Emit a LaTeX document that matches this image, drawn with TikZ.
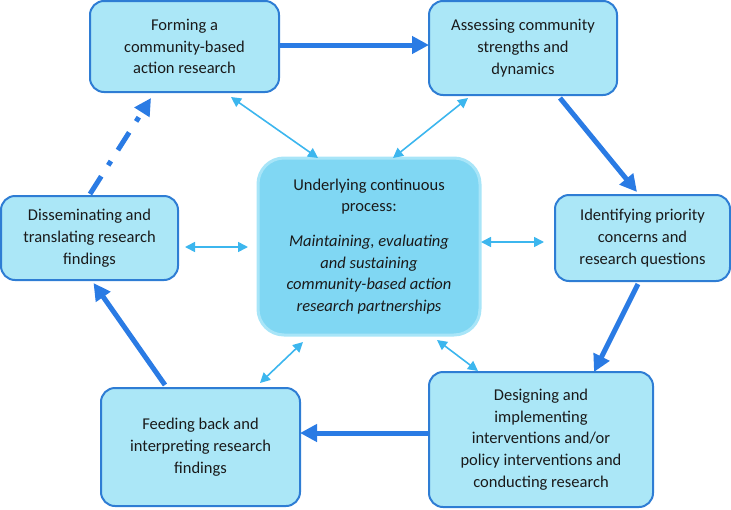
\documentclass[tikz,border=0pt]{standalone}
\usepackage{fontspec}
\setmainfont{Carlito}
\usetikzlibrary{calc,arrows.meta}
\definecolor{boxfill}{HTML}{ABE7F7}
\definecolor{boxline}{HTML}{2E7DD4}
\definecolor{cfill}{HTML}{80D7F3}
\definecolor{cline}{HTML}{A8E5F8}
\definecolor{thick}{HTML}{2A7BE4}
\definecolor{thin}{HTML}{3CB6EE}
\definecolor{txt}{HTML}{1A1A1A}
\begin{document}
\begin{tikzpicture}[x=1pt,y=-1pt,
  stagebox/.style={draw=boxline, line width=2pt, fill=boxfill, rounded corners=14pt,
    align=center, outer sep=0pt, inner sep=0pt, text=txt,
    font=\fontsize{16.5}{21.7}\selectfont},
  corebox/.style={draw=cline, line width=3pt, fill=cfill, rounded corners=26pt,
    align=center, outer sep=0pt, inner sep=0pt, text=txt,
    font=\fontsize{16.5}{21.7}\selectfont},
  bigarrow/.style={draw=thick, line width=5pt, -{Triangle[length=17pt,width=17pt]}},
  smallarrow/.style={draw=thin, line width=1.6pt, {Triangle[length=10pt,width=10pt]}-{Triangle[length=10pt,width=10pt]}}
]
\useasboundingbox (0,0) rectangle (731,509);

\node[stagebox, minimum width=189pt, minimum height=91pt] (form) at (184.5,46.5)
  {Forming a\\community-based\\action research};
\node[stagebox, minimum width=188pt, minimum height=94pt] (assess) at (523,48)
  {Assessing community\\strengths and\\dynamics};
\node[stagebox, minimum width=175pt, minimum height=86pt] (ident) at (642.5,238)
  {Identifying priority\\concerns and\\research questions};
\node[stagebox, minimum width=224pt, minimum height=135pt] (design) at (541,439.5)
  {Designing and\\implementing\\interventions and/or\\policy interventions and\\conducting research};
\node[stagebox, minimum width=199pt, minimum height=118pt] (feed) at (200.5,447)
  {Feeding back and\\interpreting research\\findings};
\node[stagebox, minimum width=177pt, minimum height=84pt] (dissem) at (89.5,238)
  {Disseminating and\\translating research\\findings};
\node[corebox, minimum width=222pt, minimum height=177pt] (core) at (369,246.5)
  {Underlying continuous\\process:\\[13pt]
   \itshape Maintaining, evaluating\\\itshape and sustaining\\\itshape community-based action\\\itshape research partnerships};

% main cycle
\draw[bigarrow] ($(form.east)+(1,-1.5)$) -- ($(assess.west)+(0,-3)$);
\draw[bigarrow] ($(assess.south)+(37,3)$) -- ($(ident.north)+(-5.5,-3)$);
\draw[bigarrow] ($(ident.south)+(-4.5,3)$) -- ($(design.north)+(53,0)$);
\draw[bigarrow] ($(design.west)+(0,-6.5)$) -- ($(feed.east)+(0,-14)$);
\draw[bigarrow] ($(feed.north)+(-35.5,-3)$) -- ($(dissem.south)+(4,3)$);
\draw[bigarrow, dash pattern=on 21pt off 13pt on 5pt off 13pt] ($(dissem.north)+(0.5,-2)$) -- ($(form.south)+(-33.5,6)$);

% links to core
\draw[smallarrow] ($(form.south)+(46.5,5)$) -- ($(core.north)+(-51,0)$);
\draw[smallarrow] ($(assess.south)+(-55,3)$) -- ($(core.north)+(24,0)$);
\draw[smallarrow] ($(dissem.east)+(7,9)$) -- ($(core.west)+(-10,0.5)$);
\draw[smallarrow] ($(core.east)+(1,-4.5)$) -- ($(ident.west)+(-11,4)$);
\draw[smallarrow] ($(core.south)+(-66,7)$) -- ($(feed.north)+(59.5,-5)$);
\draw[smallarrow] ($(core.south)+(68,5)$) -- ($(design.north)+(-63,-1)$);
\end{tikzpicture}
\end{document}
